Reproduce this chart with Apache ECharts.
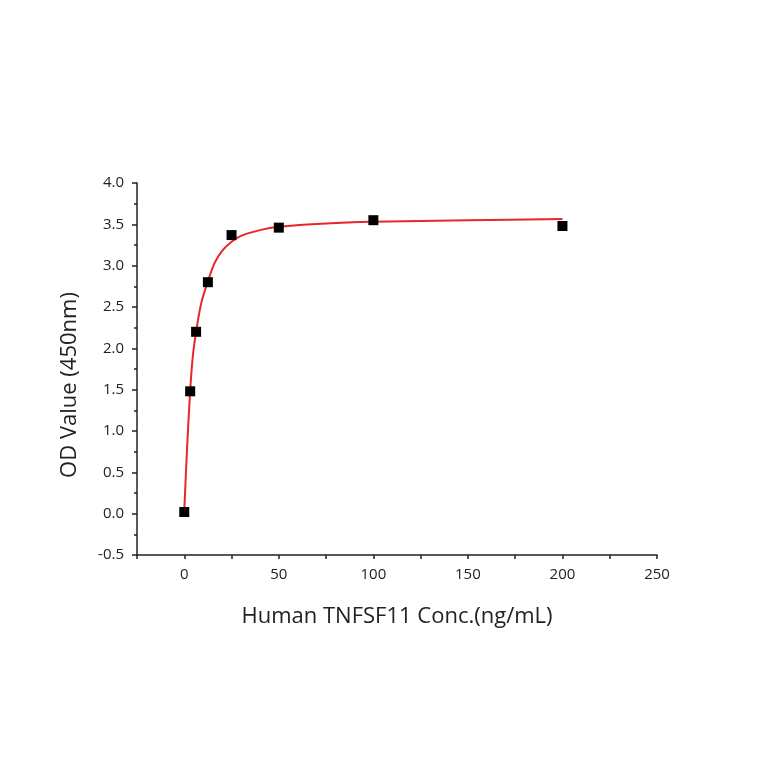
<!DOCTYPE html>
<html>
<head>
<meta charset="utf-8">
<script src="https://cdn.jsdelivr.net/npm/echarts@6/dist/echarts.min.js"></script>
<style>html,body{margin:0;padding:0;background:#fff}#c{width:764px;height:764px}</style>
</head>
<body>
<div id="c"></div>
<script>
// Measured standards
const concX = [0, 3.125, 6.25, 12.5, 25, 50, 100, 200];
const odY = [0.02, 1.48, 2.20, 2.80, 3.37, 3.46, 3.55, 3.48];
// Fitted curve
const fitX = [0, 1.5, 3.1, 4.5, 6.25, 9, 12.5, 16, 20, 25, 30, 40, 50, 75, 100, 150, 200];
const fitY = [0.04, 0.80, 1.48, 1.90, 2.20, 2.55, 2.81, 3.03, 3.18, 3.29, 3.36, 3.43, 3.47, 3.51, 3.53, 3.55, 3.565];
const xTitle = 'Human TNFSF11 Conc.(ng/mL)';
const yTitle = 'OD Value (450nm)';

const font = '"Open Sans", "Liberation Sans", sans-serif';
const chart = echarts.init(document.getElementById('c'));
chart.setOption({
  animation: false,
  backgroundColor: '#fff',
  grid: { left: 137, right: 107, top: 183, bottom: 209, containLabel: false },
  xAxis: {
    type: 'value', min: -25, max: 250, interval: 25,
    splitLine: { show: false },
    axisLine: { show: true, onZero: false, lineStyle: { color: '#222', width: 1.5 } },
    axisTick: { show: true, length: 4, lineStyle: { color: '#222', width: 1.5 } },
    axisLabel: {
      color: '#222', fontSize: 15, fontFamily: font, margin: 12,
      formatter: v => (v % 50 === 0 && v >= 0) ? String(v) : ''
    },
    name: xTitle, nameLocation: 'middle', nameGap: 51,
    nameTextStyle: { fontSize: 22, fontFamily: font, color: '#222' }
  },
  yAxis: {
    type: 'value', min: -0.5, max: 4.0, interval: 0.5,
    splitLine: { show: false },
    axisLine: { show: true, onZero: false, lineStyle: { color: '#222', width: 1.5 } },
    axisTick: { show: true, length: 5, lineStyle: { color: '#222', width: 1.5 } },
    minorTick: { show: true, splitNumber: 2, length: 3, lineStyle: { color: '#222', width: 1.5 } },
    axisLabel: { color: '#222', fontSize: 15, fontFamily: font, margin: 13, formatter: v => v.toFixed(1) },
    name: yTitle, nameLocation: 'middle', nameGap: 56, nameRotate: 90,
    nameTextStyle: { fontSize: 22, fontFamily: font, color: '#222', padding: [0, 32, 0, 0] }
  },
  series: [
    {
      type: 'line', data: fitX.map((x, i) => [x, fitY[i]]),
      smooth: 0.3, showSymbol: false, symbol: 'none',
      lineStyle: { color: '#e8262b', width: 2 }, z: 2
    },
    {
      type: 'scatter', data: concX.map((x, i) => [x, odY[i]]),
      symbol: 'rect', symbolSize: 10,
      itemStyle: { color: '#000', opacity: 1 }, z: 3
    }
  ]
});
</script>
</body>
</html>
